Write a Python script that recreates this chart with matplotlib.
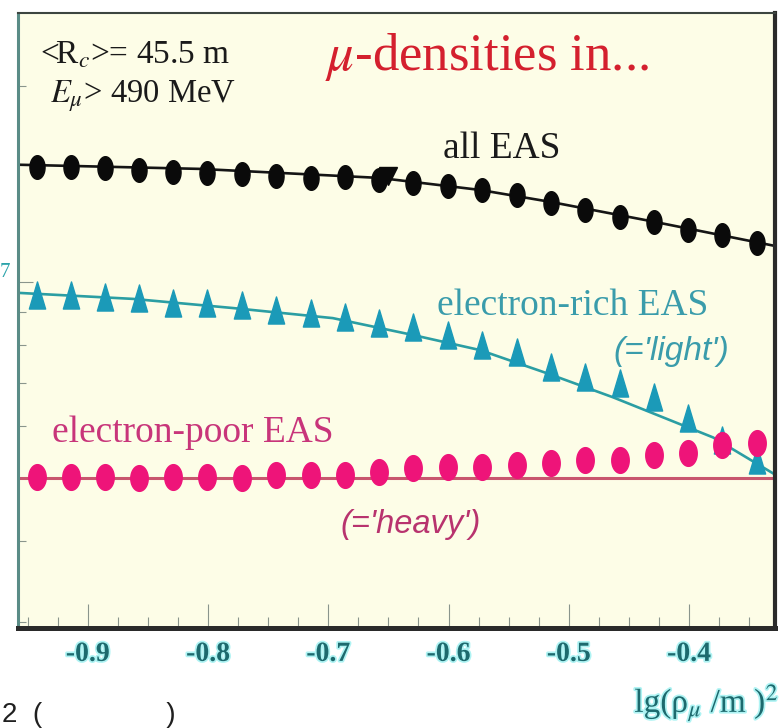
import numpy as np
import matplotlib.pyplot as plt
from matplotlib.path import Path
from matplotlib.ticker import LogLocator, MultipleLocator, FuncFormatter, NullFormatter
import matplotlib.patheffects as pe

plt.rcParams['font.family'] = ['Liberation Serif', 'DejaVu Serif']
plt.rcParams['mathtext.fontset'] = 'stix'

# ==============================
# Data
# ==============================
# bin centres in lg(rho_mu / m^-2)
x_bins = [-0.9424, -0.9141, -0.8859, -0.8576, -0.8293, -0.8010, -0.7719, -0.7436,
          -0.7145, -0.6862, -0.6579, -0.6296, -0.6005, -0.5722, -0.5431, -0.5148,
          -0.4865, -0.4574, -0.4291, -0.4008, -0.3725, -0.3434]

# mu-densities (units of 1e-7)
dens_all = [1.503, 1.503, 1.497, 1.487, 1.476, 1.471, 1.466, 1.456, 1.445, 1.451, 1.435,
            1.420, 1.405, 1.385, 1.361, 1.323, 1.291, 1.259, 1.237, 1.202, 1.181, 1.148]
dens_rich = [0.955, 0.955, 0.948, 0.945, 0.928, 0.928, 0.922, 0.906, 0.896, 0.884, 0.865,
             0.853, 0.829, 0.800, 0.780, 0.740, 0.714, 0.699, 0.665, 0.618, 0.571, 0.532]
dens_poor = [0.501, 0.501, 0.501, 0.499, 0.501, 0.501, 0.499, 0.505, 0.505, 0.505, 0.510,
             0.518, 0.519, 0.519, 0.523, 0.527, 0.532, 0.532, 0.542, 0.546, 0.561, 0.565]

# fit curves
fit_all_x = [-0.9566, -0.8068, -0.6571, -0.5739, -0.5156, -0.4324, -0.3285]
fit_all_y = [1.514, 1.492, 1.445, 1.385, 1.328, 1.241, 1.136]
fit_rich_x = [-0.9566, -0.8626, -0.7794, -0.6962, -0.6296, -0.5739, -0.5181, -0.4632, -0.3800, -0.3285]
fit_rich_y = [0.962, 0.942, 0.912, 0.880, 0.829, 0.786, 0.724, 0.665, 0.577, 0.506]
fit_poor_x = [-0.9566, -0.3285]
fit_poor_y = [0.499, 0.499]

# stray black marker near the middle of the top series
odd_x = [-0.6504]
odd_y = [1.456]

xtick_vals = [-0.9, -0.8, -0.7, -0.6, -0.5, -0.4]

scale = 1e-7

# ==============================
# Marker shapes (stretched vertically like the scan)
# ==============================
t = np.linspace(0, 2 * np.pi, 60)
def ellipse(ratio):
    return Path(np.column_stack([ratio * np.cos(t), np.sin(t)]), closed=True)

tri = Path([(0, 1), (-0.6, -1), (0.6, -1), (0, 1)], closed=True)

# ==============================
# Figure
# ==============================
fig = plt.figure(figsize=(7.81, 7.28), dpi=100)
fig.patch.set_facecolor('white')
ax = fig.add_axes([18 / 781, 1 - 628 / 728, (775 - 18) / 781, (628 - 13) / 728])
ax.set_facecolor('#fdfde7')

# fit lines
ax.plot(fit_all_x, np.array(fit_all_y) * scale, color='#151515', lw=1.9, zorder=2)
ax.plot(fit_rich_x, np.array(fit_rich_y) * scale, color='#2b9ea3', lw=1.9, zorder=2)
ax.plot(fit_poor_x, np.array(fit_poor_y) * scale, color='#c8566e', lw=2.2, zorder=2)

# data points
ax.plot(x_bins, np.array(dens_all) * scale, ls='none', marker=ellipse(0.64),
        ms=17, color='#0a0a0a', zorder=3)
ax.plot(odd_x, np.array(odd_y) * scale, ls='none', marker='v', ms=13,
        color='#0a0a0a', zorder=3)
ax.plot(x_bins, np.array(dens_rich) * scale, ls='none', marker=tri,
        ms=19.5, color='#1b9ab8', zorder=3)
ax.plot(x_bins, np.array(dens_poor) * scale, ls='none', marker=ellipse(0.68),
        ms=18.5, color='#ee1479', zorder=4)

# ==============================
# Axes
# ==============================
ax.set_xlim(-0.958, -0.3285)
ax.set_yscale('log')
ax.set_ylim(2.94e-8, 2.59e-7)

ax.set_xticks(xtick_vals)
ax.set_xticklabels(['%.1f' % v for v in xtick_vals], fontweight='bold')
ax.xaxis.set_minor_locator(MultipleLocator(0.025))
ax.yaxis.set_major_locator(LogLocator(base=10))
ax.yaxis.set_minor_locator(LogLocator(base=10, subs=np.arange(2, 10)))
# only the tail of the 10^-7 label is visible at the left edge
ax.yaxis.set_major_formatter(FuncFormatter(
    lambda v, p: '7' if abs(np.log10(v) + 7) < 0.01 else ''))
ax.yaxis.set_minor_formatter(NullFormatter())

glow = [pe.withStroke(linewidth=2.5, foreground='#aef3f3')]
ax.tick_params(axis='x', which='major', direction='in', length=17, width=0.8,
               color='#8a958c', pad=10, labelsize=20, labelcolor='#1d6a6e')
ax.tick_params(axis='x', which='minor', direction='in', length=8, width=0.8, color='#8a958c')
ax.tick_params(axis='y', which='major', direction='in', length=11, width=0.8,
               color='#8a958c', pad=6, labelsize=15, labelcolor='#2aa3aa')
ax.tick_params(axis='y', which='minor', direction='in', length=6, width=0.8, color='#8a958c')
for lab in ax.get_xticklabels():
    lab.set_path_effects(glow)
for lab in ax.get_yticklabels():
    lab.set_verticalalignment('bottom')

ax.spines['top'].set_color('#3c4540')
ax.spines['top'].set_linewidth(1.5)
ax.spines['left'].set_color('#5a8c86')
ax.spines['left'].set_linewidth(2.2)
ax.spines['right'].set_color('#2a2a2a')
ax.spines['right'].set_linewidth(3.0)
ax.spines['bottom'].set_color('#2a2a2a')
ax.spines['bottom'].set_linewidth(3.6)

# ==============================
# Annotations
# ==============================
def px(x, y):
    return x / 781, 1 - y / 728

fig.text(*px(40, 63), r'<R$_c$>= 45.5 m', fontsize=24, color='#1a1a1a', va='baseline')
fig.text(*px(50, 103), r'$E_\mu$> 490 MeV', fontsize=23.5, color='#1a1a1a', va='baseline')
fig.text(*px(325, 70), r'$\mu$-densities in...', fontsize=38, color='#d4202e', va='baseline')
fig.text(*px(443, 158), 'all EAS', fontsize=27, color='#1a1a1a', va='baseline')
fig.text(*px(437, 315), 'electron-rich EAS', fontsize=27, color='#3a9cab', va='baseline')
fig.text(*px(613, 360), "(='light')", fontsize=24, color='#3a9cab', va='baseline',
         family='Liberation Sans', style='italic')
fig.text(*px(52, 442), 'electron-poor EAS', fontsize=27, color='#c8357a', va='baseline')
fig.text(*px(340, 533), "(='heavy')", fontsize=23.5, color='#b8336e', va='baseline',
         family='Liberation Sans', style='italic')

fig.text(*px(779, 712), r'lg(ρ$_\mu$ /m )$^2$', fontsize=24, color='#1d6a6e',
         ha='right', va='baseline', path_effects=glow)
fig.text(*px(2, 722), '2  (                )', fontsize=20, color='#202020',
         family='Liberation Sans', va='baseline')

fig.savefig('out.png', dpi=100)
